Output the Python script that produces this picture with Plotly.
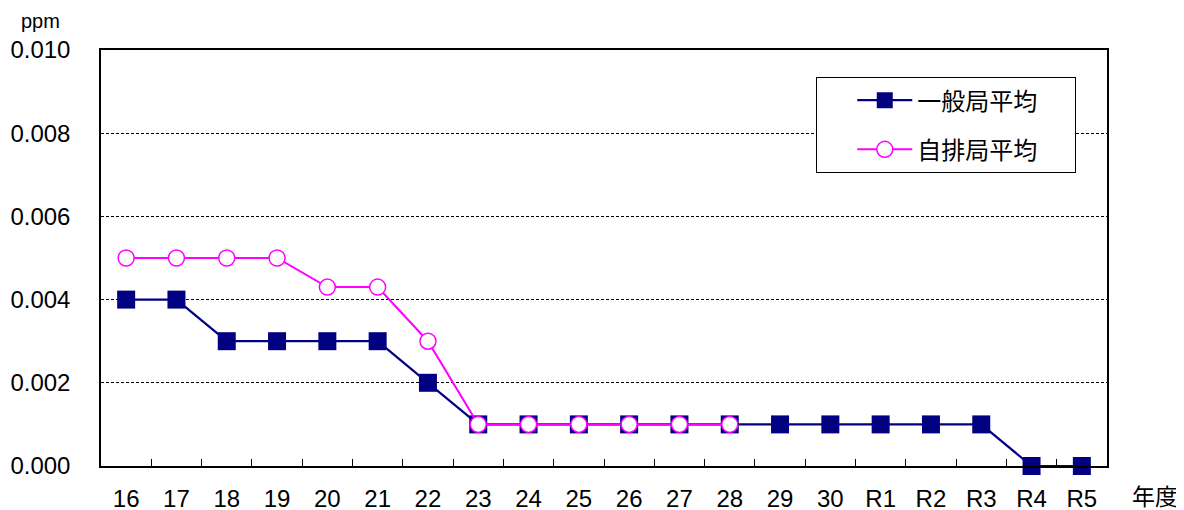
import plotly.graph_objects as go

years = ["16", "17", "18", "19", "20", "21", "22", "23", "24", "25", "26", "27", "28",
         "29", "30", "R1", "R2", "R3", "R4", "R5"]
general_avg = [0.004, 0.004, 0.003, 0.003, 0.003, 0.003, 0.002, 0.001, 0.001, 0.001,
               0.001, 0.001, 0.001, 0.001, 0.001, 0.001, 0.001, 0.001, 0.000, 0.000]
roadside_avg = [0.005, 0.005, 0.005, 0.005, 0.0043, 0.0043, 0.003, 0.001, 0.001, 0.001,
                0.001, 0.001, 0.001, None, None, None, None, None, None, None]

FONT = "Liberation Sans, Noto Sans CJK JP, sans-serif"
CJK = "Noto Sans CJK JP, sans-serif"
PAD = "\u00a0" * 6

fig = go.Figure()
fig.add_trace(go.Scatter(
    x=years, y=general_avg, name="一般局平均" + PAD, mode="lines+markers",
    line=dict(color="#000080", width=2.2),
    marker=dict(symbol="square", size=18, color="#000080"),
    legendgroup="a", cliponaxis=False,
))
fig.add_trace(go.Scatter(
    x=years, y=roadside_avg, name="自排局平均" + PAD, mode="lines+markers",
    line=dict(color="#FF00FF", width=2),
    marker=dict(symbol="circle", size=16, color="white", line=dict(color="#FF00FF", width=1.5)),
    legendgroup="b", cliponaxis=False,
))

fig.update_layout(
    width=1184, height=510,
    margin=dict(l=93, r=85, t=42, b=52, autoexpand=False),
    paper_bgcolor="white", plot_bgcolor="white",
    font=dict(family=FONT, size=24, color="black"),
    showlegend=True,
    legend=dict(
        x=0.711, y=0.935, xanchor="left", yanchor="top",
        bordercolor="black", borderwidth=1, bgcolor="white",
        font=dict(family=CJK, size=24, color="black"),
        tracegroupgap=15, itemwidth=55, indentation=35,
    ),
    xaxis=dict(
        type="category", range=[-0.5, len(years) - 0.5],
        showline=True, mirror=True, linecolor="black", linewidth=1.5,
        ticks="inside", tickson="boundaries", ticklen=7, tickcolor="black",
        showgrid=False, ticklabelstandoff=10, automargin=False,
        tickfont=dict(family=FONT, size=24),
    ),
    yaxis=dict(
        range=[0, 0.010], dtick=0.002, tickformat=".3f",
        showline=True, mirror=True, linecolor="black", linewidth=1.5,
        showgrid=True, gridcolor="black", griddash="3px,2px", gridwidth=1,
        zeroline=False, ticks="", ticklabelstandoff=24, automargin=False,
        tickfont=dict(family=FONT, size=24),
    ),
    annotations=[
        dict(text="ppm", xref="paper", yref="paper", x=-0.06, y=1.07, xanchor="center",
             yanchor="middle", showarrow=False, font=dict(family=FONT, size=20)),
        dict(text="年度", xref="paper", yref="paper", x=1.048, y=-0.07, xanchor="center",
             yanchor="middle", showarrow=False, font=dict(family=CJK, size=23)),
    ],
)

fig.write_html("out.html")
